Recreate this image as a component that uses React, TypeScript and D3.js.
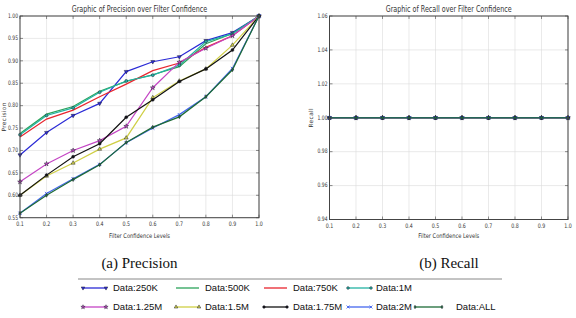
import React from "react";
import * as d3 from "d3";

// Filter confidence thresholds (x axis)
const levels = [0.1, 0.2, 0.3, 0.4, 0.5, 0.6, 0.7, 0.8, 0.9, 1.0];

const seriesNames = [
  "Data:250K", "Data:500K", "Data:750K", "Data:1M",
  "Data:1.25M", "Data:1.5M", "Data:1.75M", "Data:2M", "Data:ALL",
];

// Precision per dataset size
const prec250K = [0.69, 0.74, 0.778, 0.805, 0.876, 0.898, 0.909, 0.945, 0.963, 1.0];
const prec500K = [0.738, 0.781, 0.798, 0.832, 0.854, 0.869, 0.887, 0.938, 0.961, 1.0];
const prec750K = [0.73, 0.77, 0.79, 0.82, 0.848, 0.878, 0.895, 0.93, 0.956, 1.0];
const prec1M = [0.735, 0.778, 0.795, 0.83, 0.855, 0.868, 0.89, 0.943, 0.96, 1.0];
const prec1_25M = [0.63, 0.67, 0.7, 0.722, 0.754, 0.84, 0.897, 0.928, 0.956, 1.0];
const prec1_5M = [0.6, 0.643, 0.672, 0.703, 0.728, 0.818, 0.855, 0.882, 0.935, 1.0];
const prec1_75M = [0.6, 0.645, 0.686, 0.715, 0.774, 0.813, 0.854, 0.882, 0.924, 1.0];
const prec2M = [0.56, 0.604, 0.637, 0.669, 0.717, 0.75, 0.78, 0.82, 0.883, 1.0];
const precALL = [0.56, 0.6, 0.635, 0.668, 0.718, 0.752, 0.775, 0.82, 0.88, 1.0];

// Recall per dataset size (identical for every size)
const recall250K = [1, 1, 1, 1, 1, 1, 1, 1, 1, 1];
const recall500K = [1, 1, 1, 1, 1, 1, 1, 1, 1, 1];
const recall750K = [1, 1, 1, 1, 1, 1, 1, 1, 1, 1];
const recall1M = [1, 1, 1, 1, 1, 1, 1, 1, 1, 1];
const recall1_25M = [1, 1, 1, 1, 1, 1, 1, 1, 1, 1];
const recall1_5M = [1, 1, 1, 1, 1, 1, 1, 1, 1, 1];
const recall1_75M = [1, 1, 1, 1, 1, 1, 1, 1, 1, 1];
const recall2M = [1, 1, 1, 1, 1, 1, 1, 1, 1, 1];
const recallALL = [1, 1, 1, 1, 1, 1, 1, 1, 1, 1];

const precisionTicks = [0.55, 0.6, 0.65, 0.7, 0.75, 0.8, 0.85, 0.9, 0.95, 1.0];
const recallTicks = [0.94, 0.96, 0.98, 1.0, 1.02, 1.04, 1.06];

type Marker = "triDown" | "none" | "circle" | "star" | "triUp" | "x" | "diamond";

const styles: { color: string; marker: Marker }[] = [
  { color: "#2a2ad6", marker: "triDown" },
  { color: "#2ba35a", marker: "none" },
  { color: "#e8252d", marker: "none" },
  { color: "#22b2a2", marker: "circle" },
  { color: "#c445c4", marker: "star" },
  { color: "#cfcf45", marker: "triUp" },
  { color: "#111111", marker: "circle" },
  { color: "#4466ee", marker: "x" },
  { color: "#1d6b36", marker: "diamond" },
];

const precisionData = [prec250K, prec500K, prec750K, prec1M, prec1_25M, prec1_5M, prec1_75M, prec2M, precALL];
const recallData = [recall250K, recall500K, recall750K, recall1M, recall1_25M, recall1_5M, recall1_75M, recall2M, recallALL];

const FONT = "'DejaVu Sans', sans-serif";

function MarkerShape({ kind, color, x, y, s = 1 }: { kind: Marker; color: string; x: number; y: number; s?: number }) {
  if (kind === "none") return null;
  const edge = "#223";
  if (kind === "x") {
    const r = 1.6 * s;
    return (
      <path d={`M${x - r},${y - r}L${x + r},${y + r}M${x - r},${y + r}L${x + r},${y - r}`} stroke={color} strokeWidth={0.9} />
    );
  }
  const area = 7 * s * s;
  let d = "";
  if (kind === "circle") d = d3.symbol(d3.symbolCircle, area)()!;
  else if (kind === "star") d = d3.symbol(d3.symbolStar, area)()!;
  else if (kind === "triUp" || kind === "triDown") d = d3.symbol(d3.symbolTriangle, area)()!;
  else if (kind === "diamond") d = d3.symbol(d3.symbolDiamond2, area)()!;
  const rot = kind === "triDown" ? " rotate(180)" : "";
  return (
    <path d={d} transform={`translate(${x},${y})${rot}${kind === "diamond" ? " scale(0.7,1.2)" : ""}`} fill={color} stroke={edge} strokeWidth={0.5} />
  );
}

function Panel({
  left, right, top, bottom, yDomain, yTicks, data, title, yLabel, yLabelX,
}: {
  left: number; right: number; top: number; bottom: number;
  yDomain: [number, number]; yTicks: number[]; data: number[][];
  title: string; yLabel: string; yLabelX: number;
}) {
  const x = d3.scaleLinear().domain([0.1, 1.0]).range([left, right]);
  const y = d3.scaleLinear().domain(yDomain).range([bottom, top]);
  const line = d3.line<number>().x((_, i) => x(levels[i])).y((v) => y(v));
  const cx = (left + right) / 2;
  const cy = (top + bottom) / 2;
  return (
    <g>
      {/* grid */}
      {levels.map((l) => (
        <line key={"gx" + l} x1={x(l)} x2={x(l)} y1={top} y2={bottom} stroke="#dcdcdc" strokeWidth={0.6} />
      ))}
      {yTicks.map((t) => (
        <line key={"gy" + t} x1={left} x2={right} y1={y(t)} y2={y(t)} stroke="#dcdcdc" strokeWidth={0.6} />
      ))}
      {/* series */}
      {data.map((vals, si) => (
        <g key={si}>
          <path d={line(vals)!} fill="none" stroke={styles[si].color} strokeWidth={1.2} />
          {vals.map((v, i) => (
            <MarkerShape key={i} kind={styles[si].marker} color={styles[si].color} x={x(levels[i])} y={y(v)} />
          ))}
        </g>
      ))}
      {/* frame */}
      <rect x={left} y={top} width={right - left} height={bottom - top} fill="none" stroke="#444" strokeWidth={1} />
      {/* ticks */}
      {levels.map((l) => (
        <g key={"tx" + l}>
          <line x1={x(l)} x2={x(l)} y1={bottom} y2={bottom - 3} stroke="#444" strokeWidth={0.6} />
          <line x1={x(l)} x2={x(l)} y1={top} y2={top + 3} stroke="#444" strokeWidth={0.6} />
          <text x={x(l)} y={bottom + 8.6} fontSize={6.2} fontFamily={FONT} textAnchor="middle" fill="#333"
            textLength={7.5} lengthAdjust="spacingAndGlyphs">
            {l.toFixed(1)}
          </text>
        </g>
      ))}
      {yTicks.map((t) => (
        <g key={"ty" + t}>
          <line x1={left} x2={left + 3} y1={y(t)} y2={y(t)} stroke="#444" strokeWidth={0.6} />
          <line x1={right} x2={right - 3} y1={y(t)} y2={y(t)} stroke="#444" strokeWidth={0.6} />
          <text x={left - 2} y={y(t) + 1.8} fontSize={6.2} fontFamily={FONT} textAnchor="end" fill="#333"
            textLength={10} lengthAdjust="spacingAndGlyphs">
            {t.toFixed(2)}
          </text>
        </g>
      ))}
      <text x={cx} y={12} fontSize={8} fontFamily={FONT} textAnchor="middle" fill="#333"
        textLength={title.length * 3.15} lengthAdjust="spacingAndGlyphs">
        {title}
      </text>
      <text x={cx} y={238} fontSize={6.4} fontFamily={FONT} textAnchor="middle" fill="#333"
        textLength={61} lengthAdjust="spacingAndGlyphs">
        Filter Confidence Levels
      </text>
      <text transform={`translate(${yLabelX},${cy}) rotate(-90)`} fontSize={5.8} fontFamily={FONT} textAnchor="middle" fill="#333"
        letterSpacing={0.4}>
        {yLabel}
      </text>
    </g>
  );
}

// legend column positions (line start) and row positions
const legendCols = [83, 176, 264, 348, 415];
const legendTextOffset = [30, 29, 29, 28, 41];
const legendRows = [288, 307];

export default function App() {
  const legendItems = seriesNames.map((name, i) => {
    const row = i < 4 ? 0 : 1;
    const col = i < 4 ? i : i - 4;
    return { name, row, col, style: styles[i] };
  });
  return (
    <svg width={576} height={318} style={{ position: "absolute", left: 0, top: 0, background: "#fff" }}>
      <rect width={576} height={318} fill="#fff" />
      <Panel left={20} right={259} top={16} bottom={217.7} yDomain={[0.55, 1.0]} yTicks={precisionTicks}
        data={precisionData} title="Graphic of Precision over Filter Confidence" yLabel="Precision" yLabelX={6} />
      <Panel left={329.5} right={568} top={16} bottom={219.5} yDomain={[0.94, 1.06]} yTicks={recallTicks}
        data={recallData} title="Graphic of Recall over Filter Confidence" yLabel="Recall" yLabelX={313} />
      <text x={139.5} y={268} fontSize={15} fontFamily="'Liberation Serif', serif" textAnchor="middle" fill="#111">
        (a) Precision
      </text>
      <text x={449} y={268} fontSize={15} fontFamily="'Liberation Serif', serif" textAnchor="middle" fill="#111">
        (b) Recall
      </text>
      {/* legend */}
      <line x1={78} x2={502} y1={279} y2={279} stroke="#888" strokeWidth={1} />
      {legendItems.map((it) => {
        const x0 = legendCols[it.col];
        const len = it.col === 4 ? 27 : 23;
        const yy = legendRows[it.row];
        return (
          <g key={it.name}>
            <line x1={x0} x2={x0 + len} y1={yy} y2={yy} stroke={it.style.color} strokeWidth={1.3} />
            <MarkerShape kind={it.style.marker} color={it.style.color} x={x0} y={yy} s={0.9} />
            <MarkerShape kind={it.style.marker} color={it.style.color} x={x0 + len} y={yy} s={0.9} />
            <text x={x0 + legendTextOffset[it.col]} y={yy + 3.3} fontSize={9.5} fontFamily="'Liberation Sans', Arial, sans-serif" fill="#111">
              {it.name}
            </text>
          </g>
        );
      })}
    </svg>
  );
}
